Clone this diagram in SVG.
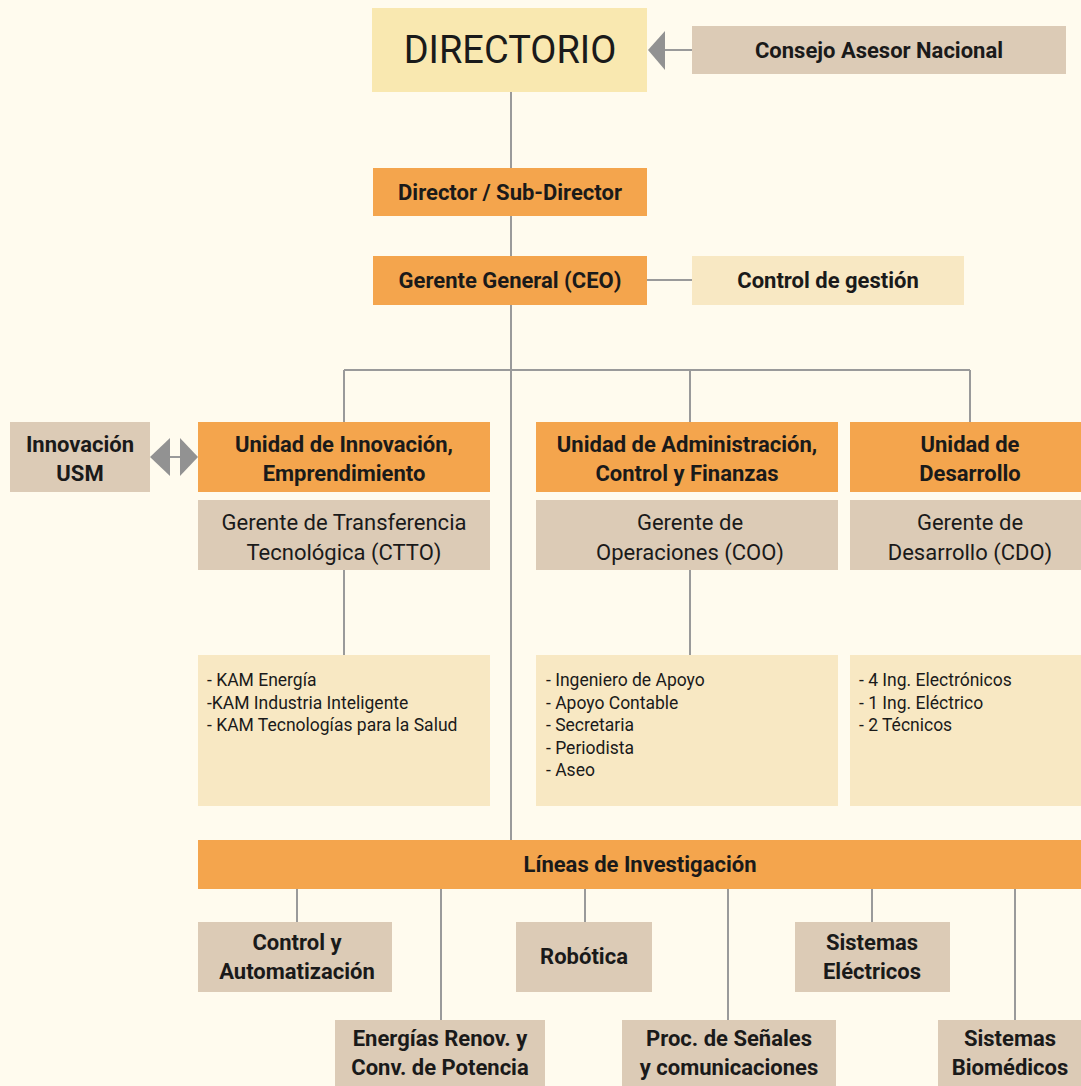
<svg xmlns="http://www.w3.org/2000/svg" width="1081" height="1086" viewBox="0 0 1081 1086">
<style>
.bg{fill:#fffbee}
.yel{fill:#f9e8b0}
.lyel{fill:#f8e8c3}
.org{fill:#f4a54d}
.tan{fill:#dccbb6}
.ln{stroke:#9a9a9a;stroke-width:2;fill:none}
.arr{fill:#929292}
text{font-family:"Roboto","Noto Sans","Liberation Sans",sans-serif;fill:#1a1a1a;text-anchor:middle}
.b{font-weight:bold;font-size:22px}
.r{font-size:22px}
.l{font-size:17.5px;text-anchor:start}
.big{font-size:38px}
</style>
<rect class="bg" x="0" y="0" width="1081" height="1086"/>
<g id="connectors">
<path class="ln" d="M511 92V168M511 216V256M511 305V840M647 280H692M344 370H970M344 370V422M690 370V422M970 370V422M344 570V655M690 570V655M665 50H692M170 457H180"/>
<path class="ln" d="M297 889V922M441 889V1020M585 889V922M728 889V1020M872 889V922M1015 889V1020"/>
<polygon class="arr" points="648,50 665,31 665,70"/>
<polygon class="arr" points="150,457 170,438 170,476"/>
<polygon class="arr" points="198,457 180,438 180,476"/>
</g>
<g id="directorio"><rect class="yel" x="372" y="8" width="275" height="84"/><text class="big" x="510" y="63">DIRECTORIO</text></g>
<g id="consejo"><rect class="tan" x="692" y="26" width="374" height="48"/><text class="b" x="879" y="58">Consejo Asesor Nacional</text></g>
<g id="director"><rect class="org" x="373" y="168" width="274" height="48"/><text class="b" x="510" y="200">Director / Sub-Director</text></g>
<g id="ceo"><rect class="org" x="373" y="256" width="274" height="49"/><text class="b" x="510" y="288">Gerente General (CEO)</text></g>
<g id="control-gestion"><rect class="lyel" x="692" y="256" width="272" height="49"/><text class="b" x="828" y="288">Control de gestión</text></g>
<g id="innovacion-usm"><rect class="tan" x="10" y="422" width="140" height="70"/><text class="b" x="80" y="452">Innovación</text><text class="b" x="80" y="481">USM</text></g>
<g id="unidad-innovacion"><rect class="org" x="198" y="422" width="292" height="70"/><text class="b" x="344" y="452">Unidad de Innovación,</text><text class="b" x="344" y="481">Emprendimiento</text></g>
<g id="ctto"><rect class="tan" x="198" y="500" width="292" height="70"/><text class="r" x="344" y="530">Gerente de Transferencia</text><text class="r" x="344" y="560">Tecnológica (CTTO)</text></g>
<g id="kam"><rect class="lyel" x="198" y="655" width="292" height="151"/><text class="l" x="207" y="686">- KAM Energía</text><text class="l" x="207" y="709">-KAM Industria Inteligente</text><text class="l" x="207" y="731">- KAM Tecnologías para la Salud</text></g>
<g id="unidad-admin"><rect class="org" x="536" y="422" width="302" height="70"/><text class="b" x="687" y="452">Unidad de Administración,</text><text class="b" x="687" y="481">Control y Finanzas</text></g>
<g id="coo"><rect class="tan" x="536" y="500" width="302" height="70"/><text class="r" x="690" y="530">Gerente de</text><text class="r" x="690" y="560">Operaciones (COO)</text></g>
<g id="admin-staff"><rect class="lyel" x="536" y="655" width="302" height="151"/><text class="l" x="546" y="686">- Ingeniero de Apoyo</text><text class="l" x="546" y="709">- Apoyo Contable</text><text class="l" x="546" y="731">- Secretaria</text><text class="l" x="546" y="754">- Periodista</text><text class="l" x="546" y="776">- Aseo</text></g>
<g id="unidad-desarrollo"><rect class="org" x="850" y="422" width="231" height="70"/><text class="b" x="970" y="452">Unidad de</text><text class="b" x="970" y="481">Desarrollo</text></g>
<g id="cdo"><rect class="tan" x="850" y="500" width="231" height="70"/><text class="r" x="970" y="530">Gerente de</text><text class="r" x="970" y="560">Desarrollo (CDO)</text></g>
<g id="desarrollo-staff"><rect class="lyel" x="850" y="655" width="231" height="151"/><text class="l" x="859" y="686">- 4 Ing. Electrónicos</text><text class="l" x="859" y="709">- 1 Ing. Eléctrico</text><text class="l" x="859" y="731">- 2 Técnicos</text></g>
<g id="lineas"><rect class="org" x="198" y="840" width="883" height="49"/><text class="b" x="640" y="872">Líneas de Investigación</text></g>
<g id="control-automatizacion"><rect class="tan" x="198" y="922" width="194" height="70"/><text class="b" x="297" y="950">Control y</text><text class="b" x="297" y="979">Automatización</text></g>
<g id="robotica"><rect class="tan" x="516" y="922" width="136" height="70"/><text class="b" x="584" y="964">Robótica</text></g>
<g id="sistemas-electricos"><rect class="tan" x="795" y="922" width="155" height="70"/><text class="b" x="872" y="950">Sistemas</text><text class="b" x="872" y="979">Eléctricos</text></g>
<g id="energias"><rect class="tan" x="335" y="1020" width="210" height="66"/><text class="b" x="440" y="1046">Energías Renov. y</text><text class="b" x="440" y="1075">Conv. de Potencia</text></g>
<g id="senales"><rect class="tan" x="622" y="1020" width="214" height="66"/><text class="b" x="729" y="1046">Proc. de Señales</text><text class="b" x="729" y="1075">y comunicaciones</text></g>
<g id="biomedicos"><rect class="tan" x="938" y="1020" width="143" height="66"/><text class="b" x="1010" y="1046">Sistemas</text><text class="b" x="1010" y="1075">Biomédicos</text></g>
</svg>
